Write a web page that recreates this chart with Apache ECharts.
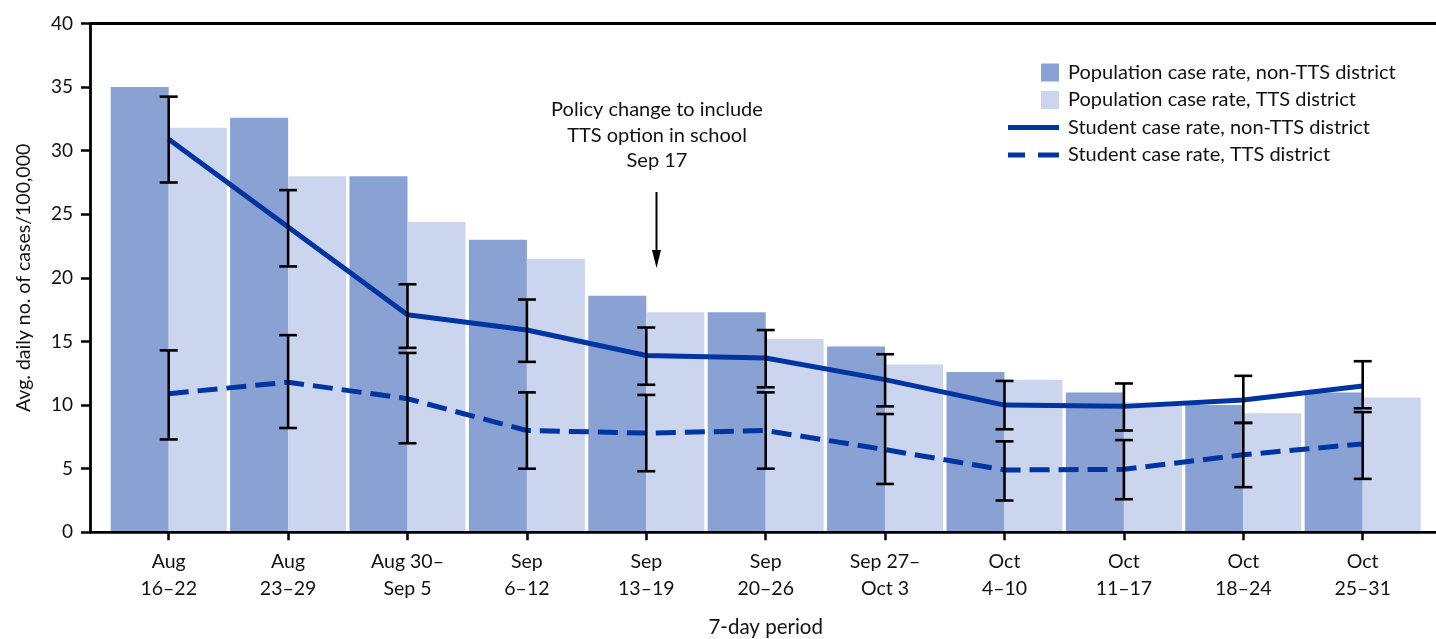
<!DOCTYPE html>
<html>
<head>
<meta charset="utf-8">
<script src="https://cdn.jsdelivr.net/npm/echarts@6/dist/echarts.min.js"></script>
<style>html,body{margin:0;padding:0;background:#fff}#c{width:1436px;height:639px}</style>
</head>
<body>
<div id="c"></div>
<script>
const categories = ['Aug\n16–22','Aug\n23–29','Aug 30–\nSep 5','Sep\n6–12','Sep\n13–19','Sep\n20–26','Sep 27–\nOct 3','Oct\n4–10','Oct\n11–17','Oct\n18–24','Oct\n25–31'];
const popNonTTS = [35.0, 32.6, 28.0, 23.0, 18.6, 17.3, 14.6, 12.6, 11.0, 10.0, 11.0];
const popTTS = [31.8, 28.0, 24.4, 21.5, 17.3, 15.2, 13.2, 12.0, 10.2, 9.35, 10.6];
const stuNonTTS = [30.9, 24.0, 17.1, 15.9, 13.9, 13.7, 12.0, 10.0, 9.9, 10.4, 11.5];
const stuNonTTSLow = [27.5, 20.9, 14.5, 13.4, 11.6, 11.4, 9.9, 8.1, 8.0, 8.6, 9.75];
const stuNonTTSHigh = [34.25, 26.9, 19.5, 18.3, 16.1, 15.9, 14.0, 11.9, 11.7, 12.3, 13.45];
const stuTTS = [10.9, 11.8, 10.5, 8.0, 7.8, 8.0, 6.5, 4.9, 4.95, 6.1, 6.95];
const stuTTSLow = [7.3, 8.2, 7.0, 5.0, 4.8, 5.0, 3.8, 2.5, 2.6, 3.55, 4.2];
const stuTTSHigh = [14.3, 15.5, 14.1, 11.0, 10.8, 11.0, 9.3, 7.15, 7.25, 8.6, 9.45];
const yTicks = [0, 5, 10, 15, 20, 25, 30, 35, 40];
const legendNames = ['Population case rate, non-TTS district','Population case rate, TTS district','Student case rate, non-TTS district','Student case rate, TTS district'];
const annotationText = 'Policy change to include\nTTS option in school\nSep 17';
const yAxisName = 'Avg. daily no. of cases/100,000';
const xAxisName = '7-day period';

const FONT = 'Lato';
const DARK = '#8aa1d3', LIGHT = '#cbd6ee', LINE = '#0035a1';

const chart = echarts.init(document.getElementById('c'), null, {renderer:'canvas'});

function errItem(params, api){
  const lo = api.coord([api.value(0), api.value(1)]);
  const hi = api.coord([api.value(0), api.value(2)]);
  const cap = 9;
  const st = {stroke:'#000', lineWidth:2.6};
  return {type:'group', children:[
    {type:'line', shape:{x1:lo[0], y1:lo[1], x2:hi[0], y2:hi[1]}, style:st},
    {type:'line', shape:{x1:lo[0]-cap, y1:lo[1], x2:lo[0]+cap, y2:lo[1]}, style:st},
    {type:'line', shape:{x1:hi[0]-cap, y1:hi[1], x2:hi[0]+cap, y2:hi[1]}, style:st}
  ]};
}

chart.setOption({
  animation:false,
  textStyle:{fontFamily:FONT},
  grid:{left:109, right:13.6, top:23.5, bottom:106.7, containLabel:false, outerBoundsMode:'none'},
  xAxis:{
    type:'category', data:categories,
    axisLine:{show:false},
    axisTick:{show:true, alignWithLabel:true, length:8, lineStyle:{color:'#000', width:2.5}},
    axisLabel:{color:'#111', fontSize:19.5, lineHeight:27, margin:16, fontFamily:FONT, interval:0},
    name:xAxisName, nameLocation:'middle', nameGap:85,
    nameTextStyle:{color:'#111', fontSize:20.5, fontFamily:FONT}
  },
  yAxis:{
    type:'value', min:0, max:40, interval:5, offset:19,
    axisLine:{show:true, lineStyle:{color:'#000', width:2.8}},
    axisTick:{show:true, length:9, lineStyle:{color:'#000', width:2.5}},
    splitLine:{show:false},
    axisLabel:{color:'#111', fontSize:19, margin:17, fontFamily:FONT},
    name:yAxisName, nameLocation:'middle', nameGap:56,
    nameTextStyle:{color:'#111', fontSize:19.5, fontFamily:FONT}
  },
  series:[
    {type:'bar', name:legendNames[0], data:popNonTTS, barWidth:58, barGap:'0%', itemStyle:{color:DARK}, z:1},
    {type:'bar', name:legendNames[1], data:popTTS, barWidth:58, barGap:'0%', itemStyle:{color:LIGHT}, z:1},
    {type:'line', name:legendNames[2], data:stuNonTTS, symbol:'none', lineStyle:{color:LINE, width:5}, z:3},
    {type:'line', name:legendNames[3], data:stuTTS, symbol:'none', lineStyle:{color:LINE, width:5, type:[20,9]}, z:3},
    {type:'custom', renderItem:errItem, data:stuNonTTS.map((v,i)=>[i, stuNonTTSLow[i], stuNonTTSHigh[i]]), z:5},
    {type:'custom', renderItem:errItem, data:stuTTS.map((v,i)=>[i, stuTTSLow[i], stuTTSHigh[i]]), z:5}
  ]
});

const y0 = chart.convertToPixel({yAxisIndex:0}, 0);
const y40 = chart.convertToPixel({yAxisIndex:0}, 40);
const axX = 90;
const lx = 1008, tx = 1068, rowY = [72.5, 100, 127.5, 155];
const g = [
  {type:'line', shape:{x1:axX, y1:y0, x2:1436, y2:y0}, style:{stroke:'#000', lineWidth:2.8}, z:10},
  {type:'line', shape:{x1:axX, y1:y40, x2:1436, y2:y40}, style:{stroke:'#000', lineWidth:2.8}, z:10},
  {type:'text', x:657, y:97, style:{text:annotationText, font:'20px '+FONT, fill:'#111', align:'center', verticalAlign:'top', lineHeight:25.5}, z:10},
  {type:'line', shape:{x1:656.5, y1:192, x2:656.5, y2:254}, style:{stroke:'#000', lineWidth:2}, z:10},
  {type:'polygon', shape:{points:[[652,250],[661,250],[656.5,268]]}, style:{fill:'#000'}, z:10},
  {type:'rect', shape:{x:1041, y:rowY[0]-9, width:18, height:18}, style:{fill:DARK}, z:10},
  {type:'rect', shape:{x:1041, y:rowY[1]-9, width:18, height:18}, style:{fill:LIGHT}, z:10},
  {type:'line', shape:{x1:lx, y1:rowY[2], x2:1059, y2:rowY[2]}, style:{stroke:LINE, lineWidth:5}, z:10},
  {type:'line', shape:{x1:lx, y1:rowY[3], x2:1025, y2:rowY[3]}, style:{stroke:LINE, lineWidth:5}, z:10},
  {type:'line', shape:{x1:1038, y1:rowY[3], x2:1059, y2:rowY[3]}, style:{stroke:LINE, lineWidth:5}, z:10}
];
legendNames.forEach((n,i)=>{
  g.push({type:'text', x:tx, y:rowY[i], style:{text:n, font:'20px '+FONT, fill:'#111', verticalAlign:'middle'}, z:10});
});
chart.setOption({graphic:g});
</script>
</body>
</html>
